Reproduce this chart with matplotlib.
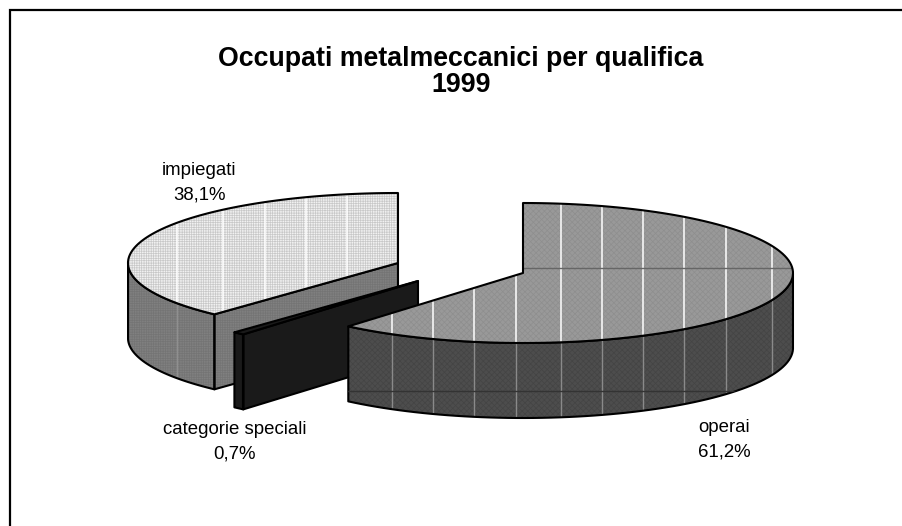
import numpy as np
import matplotlib
matplotlib.use("Agg")
from matplotlib import pyplot as plt
from matplotlib.patches import Polygon

plt.rcParams['font.family'] = ['Liberation Sans', 'DejaVu Sans']
plt.rcParams['hatch.linewidth'] = 0.5

categories = ["operai", "categorie speciali", "impiegati"]
shares = [61.2, 0.7, 38.1]
share_labels = ["61,2%", "0,7%", "38,1%"]

RX, RY, DEPTH = 270, 70, 75
# exploded centre of each slice, in pixels
centres = [(523, 273), (418, 281), (398, 263)]
top_colors = ["#999999", "#1a1a1a", "#f1f1f1"]
side_colors = ["#4d4d4d", "#1a1a1a", "#808080"]
hatch_colors = ["#8e8e8e", "#1a1a1a", "#c8c8c8"]
side_hatch = ["#444444", "#1a1a1a", "#747474"]
hatches = ["xxxxxx", None, "+++++++"]

# tile seams left by the original fill pattern
seams_x = [[392, 433, 474, 516, 561, 602, 643, 684, 726, 772], [], [177, 223, 265, 306, 347]]
seam_top = ["white", None, "#ffffff"]
seam_side = ["#8a8a8a", None, "#8f8f8f"]
seams_y = [[(268, "#666666"), (391, "#333333")], [], []]

fig = plt.figure(figsize=(9.03, 5.26), dpi=100)
ax = fig.add_axes([0, 0, 1, 1])
ax.set_xlim(0, 903)
ax.set_ylim(526, 0)
ax.axis("off")

# only top and left sides of the frame are in the picture
ax.plot([10, 10, 903], [526, 10, 10], color="black", lw=1.6, solid_joinstyle="miter")

ax.text(461, 72, "Occupati metalmeccanici per qualifica\n1999", ha="center", va="center",
        fontsize=19.3, fontweight="bold", linespacing=1.05)


def rim(cx, cy, a0, a1, n=120):
    t = np.radians(np.linspace(a0, a1, n))
    return np.column_stack([cx + RX * np.cos(t), cy - RY * np.sin(t)])


def add(points, fc, hatch, hc, zorder):
    if hatch:
        ax.add_patch(Polygon(points, closed=True, facecolor=fc, edgecolor=hc, hatch=hatch, lw=0, zorder=zorder))
    ax.add_patch(Polygon(points, closed=True, facecolor="none" if hatch else fc, edgecolor="black", lw=1.5,
                         joinstyle="round", zorder=zorder + 0.6))


def clip_line(xs, ys, color, lw, points, zorder):
    line, = ax.plot(xs, ys, color=color, lw=lw, zorder=zorder)
    line.set_clip_path(Polygon(points, closed=True, transform=ax.transData))


# slice start/end angles, clockwise from the top
angles = 90 - np.cumsum([0] + shares) * 3.6
spans = list(zip(angles[:-1], angles[1:]))

# back to front: impiegati, categorie speciali, operai
for z, i in enumerate([2, 1, 0]):
    cx, cy = centres[i]
    a0, a1 = spans[i]
    edge = rim(cx, cy, a0, a1)
    zb = 2 + z * 3
    p0 = edge[0]

    # flat side facing the viewer, from the centre to the rim (operai's is hidden)
    if i != 0:
        radial = [(cx, cy), p0, (p0[0], p0[1] + DEPTH), (cx, cy + DEPTH)]
        add(radial, side_colors[i], hatches[i], side_hatch[i], zb)

    # curved wall, only the part of the rim that faces down
    vis = edge[np.sin(np.radians(np.linspace(a0, a1, len(edge)))) <= 0.001]
    wall = np.vstack([vis, vis[::-1] + [0, DEPTH]])
    add(wall, side_colors[i], hatches[i], side_hatch[i], zb + 0.1)

    top = np.vstack([[(cx, cy)], edge])
    add(top, top_colors[i], hatches[i], hatch_colors[i], zb + 1)

    for x in seams_x[i]:
        clip_line([x, x], [150, 450], seam_top[i], 1.1, top, zb + 1.3)
        clip_line([x, x], [150, 450], seam_side[i], 1.0, wall, zb + 0.4)
    for y, c in seams_y[i]:
        clip_line([100, 850], [y, y], c, 1.0, top if y < cy else wall, zb + 1.4)

    # thin edge of the black slice
    if i == 1:
        ax.plot([p0[0], p0[0]], [p0[1], p0[1] + DEPTH], color="black", lw=1.5, zorder=zb + 1)

label_pos = [(724, 440), (235, 442), (199.5, 183)]
for name, pct, (x, y) in zip(categories, share_labels, label_pos):
    ax.text(x, y, name + "\n" + pct, ha="center", va="center", fontsize=13.4, linespacing=1.6, zorder=20)

fig.savefig("out.png", dpi=100)
